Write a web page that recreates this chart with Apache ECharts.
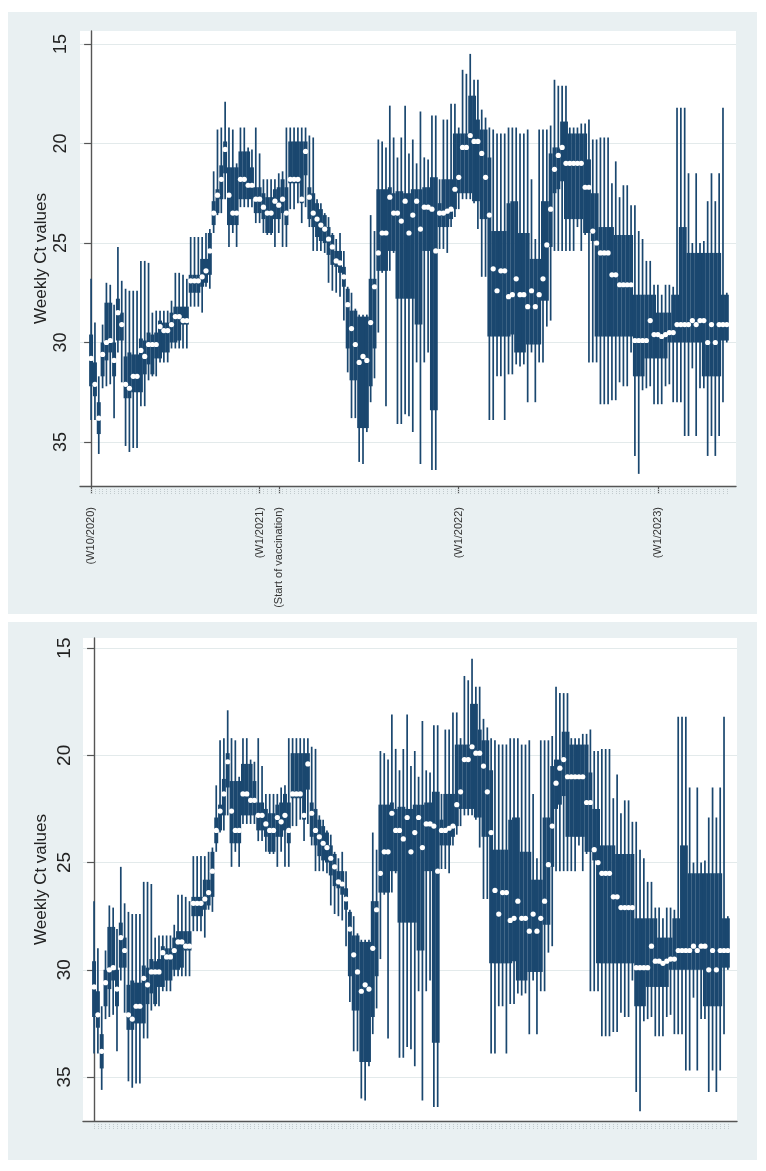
<!DOCTYPE html>
<html><head><meta charset="utf-8">
<script src="https://cdn.jsdelivr.net/npm/echarts@6/dist/echarts.min.js"></script>
<style>
html,body{margin:0;padding:0;background:#fff;}
#wrap{position:relative;width:766px;height:1171px;overflow:hidden;}
.panel{position:absolute;background:#e9f0f2;}
#chart{position:absolute;left:0;top:0;width:766px;height:1171px;}
</style></head><body>
<div id="wrap">
<div class="panel" style="left:8px;top:12px;width:749px;height:602px"></div>
<div class="panel" style="left:8px;top:622px;width:749px;height:538px"></div>
<div id="chart"></div>
</div>
<script>
// ---- categories (ISO weeks W10/2020 .. W19/2023) ----
const weekLabels = [];
[[2020,10,53],[2021,1,52],[2022,1,52],[2023,1,19]].forEach(function(r){
  for (let w = r[1]; w <= r[2]; w++) weekLabels.push('W' + w + '/' + r[0]);
});
const majorWeeks = ['W10/2020','W1/2021','W6/2021','W1/2022','W1/2023'];
const majorLabels = ['(W10/2020)','(W1/2021)','(Start of vaccination)','(W1/2022)','(W1/2023)'];
const yTicks = [15, 20, 25, 30, 35];

// ---- weekly Ct values ----
const lowWhisker = [
26.8,29.0,31.7,29.1,27.0,27.1,28.1,25.2,26.9,27.3,
27.4,27.4,27.4,25.9,25.9,26.0,28.5,28.4,28.4,28.4,
28.4,27.9,26.5,26.5,26.6,26.8,24.7,24.7,24.7,24.7,
24.5,24.3,21.4,19.3,19.2,17.9,19.2,19.3,21.0,19.2,
19.2,20.2,20.3,19.2,20.5,21.8,21.8,21.8,21.8,21.5,
21.4,19.2,19.2,19.2,19.2,19.2,19.2,19.6,19.7,22.8,
23.0,23.5,23.7,24.5,24.8,24.5,25.4,27.2,27.5,28.3,
28.6,28.6,28.6,23.6,24.4,19.8,19.9,20.2,18.1,19.7,
20.7,19.7,18.1,20.5,19.8,21.0,18.4,20.7,20.8,18.6,
18.6,21.8,18.8,18.8,18.0,18.0,19.2,16.3,16.5,15.5,
16.8,16.8,18.3,18.7,19.2,19.3,19.5,19.5,19.5,19.2,
19.2,19.2,19.5,19.5,19.3,21.8,24.8,19.3,19.3,19.3,
19.1,16.8,17.1,17.1,17.1,19.2,19.2,19.2,19.0,19.0,
18.8,19.8,19.8,19.7,19.7,19.7,22.0,20.9,22.7,22.1,
22.1,23.1,23.1,24.4,24.8,25.9,25.9,27.1,27.1,27.6,
27.1,27.1,27.2,18.2,18.2,18.2,21.5,25.0,21.5,25.0,
24.9,22.9,21.5,22.9,21.5,18.2,27.5];
const lowerQuartile = [
29.6,31.0,33.0,30.0,28.0,28.0,30.0,27.8,28.5,30.7,
30.5,30.6,30.6,29.8,29.9,29.5,29.6,29.5,28.9,29.0,
29.0,28.5,28.2,28.2,28.2,28.2,26.6,26.6,26.6,25.8,
25.8,24.5,22.9,22.3,21.1,19.9,21.2,21.2,21.2,20.4,
20.4,20.4,21.2,22.2,22.2,22.5,22.7,22.7,22.3,22.2,
21.8,22.2,19.9,19.9,19.9,19.9,19.9,22.2,22.5,23.0,
23.3,23.6,24.2,24.6,25.4,25.4,26.2,27.3,28.4,28.4,
28.7,28.7,28.7,26.8,26.8,22.3,22.3,22.3,22.2,22.5,
22.4,22.4,22.5,22.5,22.3,22.3,22.3,22.2,22.2,21.7,
21.7,23.0,21.8,21.8,21.8,19.5,19.5,19.5,19.5,17.6,
17.6,18.8,19.3,19.3,20.7,24.4,24.4,24.4,24.4,23.0,
22.9,22.9,24.5,24.5,24.5,25.8,25.8,25.8,22.9,22.9,
20.5,20.2,20.2,18.9,18.9,19.5,19.5,19.5,19.5,19.5,
20.8,22.5,22.5,24.2,24.2,24.2,24.2,24.6,24.6,24.6,
24.6,24.6,27.6,27.6,27.6,27.6,27.6,27.6,28.5,28.5,
28.5,28.5,27.6,27.6,24.2,24.2,25.5,25.5,25.5,25.5,
25.5,25.5,25.5,25.5,25.5,27.6,27.6];
const medianCt = [
30.8,32.1,33.8,30.6,30.0,29.9,30.9,28.5,29.1,32.1,
32.3,31.7,31.7,30.4,30.7,30.1,30.1,30.1,29.2,29.4,
29.4,29.1,28.7,28.7,28.9,28.9,26.9,26.9,26.9,26.7,
26.4,25.4,23.5,22.6,21.8,20.3,22.6,23.5,23.5,21.8,
21.8,22.1,22.1,22.8,22.8,23.2,23.5,23.5,22.9,23.1,
22.8,23.5,21.8,21.8,21.8,22.8,20.4,22.7,23.5,23.8,
24.1,24.3,24.8,25.2,25.9,26.0,26.7,28.1,29.3,30.1,
31.0,30.7,30.9,29.0,27.2,25.5,24.5,24.5,22.7,23.5,
23.5,23.9,22.9,24.5,23.6,22.9,24.3,23.2,23.2,23.3,
25.4,23.5,23.5,23.4,23.3,22.3,21.7,20.2,20.2,19.6,
19.9,19.9,20.5,21.7,23.6,26.3,27.4,26.4,26.4,27.7,
27.6,26.8,27.6,27.6,28.2,27.4,28.2,27.6,26.8,25.1,
23.3,21.3,20.6,20.2,21.0,21.0,21.0,21.0,21.0,22.2,
22.2,24.4,25.0,25.5,25.5,25.5,26.6,26.6,27.1,27.1,
27.1,27.1,29.9,29.9,29.9,29.9,28.9,29.6,29.6,29.7,
29.6,29.5,29.5,29.1,29.1,29.1,29.1,28.9,29.1,28.9,
28.9,30.0,29.1,30.0,29.1,29.1,29.1];
const upperQuartile = [
32.2,32.7,34.6,31.7,30.9,30.5,31.7,29.9,29.9,32.8,
32.8,32.5,32.5,32.5,31.6,31.1,31.6,30.8,30.8,30.5,
30.5,30.0,30.0,29.9,29.1,29.1,27.5,27.5,27.5,27.2,
27.0,26.6,24.1,23.5,22.8,21.5,24.1,24.1,24.1,22.8,
22.8,22.8,22.8,23.5,23.5,23.8,24.5,24.5,23.8,23.8,
23.5,24.1,22.0,22.0,22.0,23.0,21.6,23.8,24.2,24.7,
24.9,25.0,25.6,26.1,26.2,26.5,27.2,30.3,31.9,31.9,
34.3,34.3,34.3,32.2,30.3,26.4,26.4,26.4,25.4,25.4,
27.8,27.8,27.8,27.8,27.8,29.1,29.1,25.4,25.4,33.4,
33.4,24.2,24.2,24.2,23.8,23.3,22.5,22.5,22.5,22.5,
22.9,22.9,23.8,23.8,29.7,29.7,29.7,29.7,29.7,29.7,
29.6,30.5,30.5,30.5,30.1,30.1,30.1,30.1,27.9,27.9,
25.2,22.5,22.3,21.9,23.8,23.8,23.8,23.8,23.8,24.5,
24.5,24.9,29.7,29.7,29.7,29.7,29.7,29.7,29.7,29.7,
29.7,29.7,31.7,31.7,31.7,30.8,30.8,30.8,30.8,30.8,
30.8,30.0,30.0,30.0,30.0,30.0,30.0,30.0,30.0,30.0,
31.7,31.7,31.7,31.7,31.7,29.9,29.9];
const highWhisker = [
33.9,33.9,35.6,32.3,32.2,32.1,33.8,30.5,32.0,35.2,
35.5,35.3,35.3,33.2,33.2,31.9,31.7,31.7,31.0,31.0,
31.0,30.3,30.3,30.3,30.3,30.3,28.2,28.2,28.2,28.5,
27.2,27.3,24.5,23.6,23.5,22.8,25.2,24.5,25.2,23.2,
23.2,23.2,23.2,24.0,24.0,24.5,24.6,24.6,25.2,24.5,
25.2,25.2,23.3,23.3,23.0,24.0,23.2,24.2,25.4,25.4,
25.4,25.5,27.0,27.4,27.5,27.7,28.9,31.5,33.8,33.8,
36.0,36.1,34.5,33.0,31.8,29.5,26.5,33.2,26.4,25.5,
34.1,34.1,33.6,33.7,34.5,31.0,36.1,31.0,30.5,36.4,
36.4,25.3,25.3,25.5,24.2,23.7,23.3,22.8,22.8,22.8,
23.0,24.3,26.7,26.7,33.9,33.9,31.7,31.7,33.9,31.6,
31.6,31.1,31.2,31.1,33.0,30.5,33.0,31.0,31.0,29.2,
28.9,25.4,25.4,25.4,25.4,25.4,25.4,24.2,25.4,24.6,
31.0,31.0,31.0,33.1,33.1,33.1,32.9,32.9,32.0,32.2,
32.2,30.5,35.7,36.6,32.4,32.3,32.2,33.1,33.1,33.1,
32.2,32.1,33.0,33.0,33.0,34.7,34.7,31.3,34.7,32.3,
32.3,35.7,34.7,35.7,34.7,33.0,30.0];

// ---- build chart ----
const FONT = '"Liberation Sans", Arial, sans-serif';
const NAVY = '#1a476f';
const majorIdx = majorWeeks.map(function(w){ return weekLabels.indexOf(w); });
const weekIdx = weekLabels.map(function(w, i){ return i; });
const boxData = weekLabels.map(function(w, i){
  return [i, lowWhisker[i], lowerQuartile[i], medianCt[i], upperQuartile[i], highWhisker[i]];
});
const medData = weekLabels.map(function(w, i){ return [i, medianCt[i]]; });

const X_MIN = -2.9, X_MAX = 168.4;
const panels = [
  {left: 80, top: 31, width: 656, height: 455, yMin: 14.35, yMax: 37.21, labelSize: 18, labelMargin: 10, nameGap: 30, showMajor: true},
  {left: 83, top: 638, width: 654, height: 483, yMin: 14.53, yMax: 37.05, labelSize: 19, labelMargin: 9, nameGap: 33, showMajor: false}
];

const grid = [], xAxis = [], yAxis = [], series = [];
panels.forEach(function(p, g){
  grid.push({left: p.left, top: p.top, width: p.width, height: p.height, show: true,
             backgroundColor: '#ffffff', borderWidth: 0, containLabel: false});
  xAxis.push({
    gridIndex: g, type: 'value', min: X_MIN, max: X_MAX, position: 'bottom',
    axisLine: {show: true, onZero: false, lineStyle: {color: '#555', width: 1.4}},
    axisTick: {show: p.showMajor, customValues: majorIdx, length: 8, lineStyle: {color: '#555', width: 1.2}},
    axisLabel: {show: p.showMajor, customValues: majorIdx, rotate: 90, fontSize: 11, color: '#333',
                fontFamily: FONT, margin: 21,
                formatter: function(v){ const k = majorIdx.indexOf(Math.round(v)); return k >= 0 ? majorLabels[k] : ''; }},
    splitLine: {show: false}
  });
  xAxis.push({
    gridIndex: g, type: 'value', min: X_MIN, max: X_MAX, position: 'bottom', offset: 3,
    axisLine: {show: false}, axisLabel: {show: false}, splitLine: {show: false},
    axisTick: {show: true, customValues: weekIdx, length: 5, lineStyle: {color: '#c2cbce', width: 1, type: 'dotted'}}
  });
  yAxis.push({
    gridIndex: g, type: 'value', inverse: true, min: p.yMin, max: p.yMax,
    name: 'Weekly Ct values', nameLocation: 'middle', nameGap: p.nameGap,
    nameTextStyle: {fontSize: 17, color: '#222', fontFamily: FONT},
    axisLine: {show: true, lineStyle: {color: '#555', width: 1.4}},
    axisTick: {show: true, length: 7, customValues: yTicks, lineStyle: {color: '#555', width: 1.2}},
    axisLabel: {show: false, customValues: yTicks},
    splitLine: {show: true, lineStyle: {color: '#e3eaeb', width: 1}}
  });
  series.push({
    type: 'custom', xAxisIndex: 2 * g, yAxisIndex: g, data: boxData, clip: true,
    encode: {x: 0, y: [1, 2, 3, 4, 5]},
    renderItem: function(params, api){
      const x = api.value(0);
      const pLo = api.coord([x, api.value(1)]);
      const pQ1 = api.coord([x, api.value(2)]);
      const pQ3 = api.coord([x, api.value(4)]);
      const pHi = api.coord([x, api.value(5)]);
      const bw = api.size([1, 0])[0];
      const boxW = bw * 1.04;
      const whW = 1.7;
      return {type: 'group', children: [
        {type: 'rect', shape: {x: pLo[0] - whW / 2, y: pLo[1], width: whW, height: pHi[1] - pLo[1]},
         style: {fill: NAVY}},
        {type: 'rect', shape: {x: pQ1[0] - boxW / 2, y: pQ1[1], width: boxW, height: pQ3[1] - pQ1[1]},
         style: {fill: NAVY}}
      ]};
    }
  });
  series.push({
    type: 'scatter', xAxisIndex: 2 * g, yAxisIndex: g, data: medData,
    symbol: 'circle', symbolSize: 5.2, itemStyle: {color: '#ffffff', opacity: 1}, z: 5, silent: true
  });
});

const chart = echarts.init(document.getElementById('chart'), null, {renderer: 'canvas'});
chart.setOption({animation: false, backgroundColor: 'transparent', grid: grid, xAxis: xAxis, yAxis: yAxis, series: series});

// rotated y tick labels, placed through the axis scale
const labelEls = [];
panels.forEach(function(p, g){
  yTicks.forEach(function(v){
    const pt = chart.convertToPixel({xAxisIndex: 2 * g, yAxisIndex: g}, [X_MIN, v]);
    labelEls.push({
      type: 'text', x: pt[0] - p.labelMargin, y: pt[1], rotation: Math.PI / 2, silent: true,
      style: {text: String(v), fontSize: p.labelSize, fontFamily: FONT, fill: '#222',
              align: 'center', verticalAlign: 'bottom'}
    });
  });
});
chart.setOption({graphic: labelEls});
</script>
</body></html>
